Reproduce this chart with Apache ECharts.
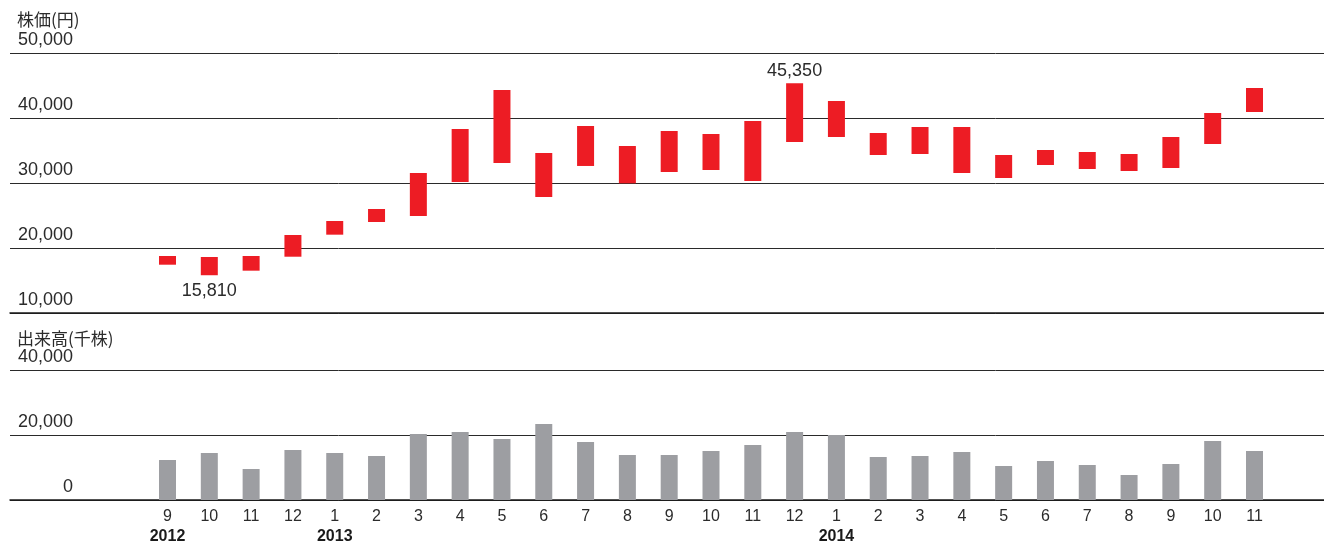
<!DOCTYPE html>
<html>
<head>
<meta charset="utf-8">
<script src="https://cdn.jsdelivr.net/npm/echarts@6/dist/echarts.min.js"></script>
<style>
  html, body { margin: 0; padding: 0; background: #fff; }
  #chart { width: 1324px; height: 542px; }
</style>
</head>
<body>
<div id="chart"></div>
<script>
// Monthly categories (Sep 2012 - Nov 2014)
const months = ['9','10','11','12','1','2','3','4','5','6','7','8','9','10','11','12','1','2','3','4','5','6','7','8','9','10','11'];
const years  = ['2012','','','','2013','','','','','','','','','','','','2014','','','','','','','','','',''];

// Monthly share price range (yen)
const priceHigh = [18770, 18620, 18770, 22000, 24150, 26000, 31540, 38310, 44310, 34620, 38770, 35690, 38000, 37540, 39540, 45350, 42620, 37690, 38620, 38620, 34310, 35080, 34770, 34460, 37080, 40770, 44620];
const priceLow  = [17430, 15810, 16510, 18660, 22050, 24000, 24920, 30150, 33080, 27850, 32620, 29950, 31690, 32000, 30310, 36310, 37080, 34310, 34460, 31540, 30770, 32770, 32150, 31850, 32310, 36000, 40920];

// Monthly trading volume (thousand shares)
const volume = [12300, 14460, 9540, 15380, 14460, 13540, 20310, 20920, 18770, 23380, 17850, 13850, 13850, 15080, 16920, 20920, 20000, 13230, 13540, 14770, 10460, 12000, 10770, 7690, 11080, 18150, 15080];

// Axis ranges
const priceMin = 10000, priceMax = 50000, priceStep = 10000;
const volMin = 0, volMax = 40000, volStep = 20000;

const fmt = v => Number(v).toLocaleString('en-US');
const priceRange = priceHigh.map((h, i) => h - priceLow[i]);
const lowIdx = priceLow.indexOf(Math.min(...priceLow));
const highIdx = priceHigh.indexOf(Math.max(...priceHigh));

const LATIN = '"Liberation Sans", Arial, Helvetica, sans-serif';
const CJK = '"Noto Sans CJK JP", "Noto Sans CJK SC", sans-serif';
const TEXT = '#2b2b2b';
const LINE = '#2a2a2a';

const PLOT_L = 146.6, PLOT_R = 48.6;
const TOP_Y = 53, TOP_H = 260;
const BOT_Y = 370, BOT_H = 130;

function scaleAxis(min, max, step, grid) {
  return {
    type: 'value', gridIndex: grid, min: min, max: max, interval: step,
    axisLine: { show: false }, axisTick: { show: false },
    splitLine: { show: true, lineStyle: { color: LINE, width: 1 } },
    axisLabel: {
      inside: true, margin: 63, align: 'right', verticalAlign: 'bottom',
      padding: [0, 0, 4, 0], lineHeight: 18,
      fontFamily: LATIN, fontSize: 18, color: TEXT,
      formatter: v => fmt(v)
    }
  };
}
function hiddenValue(min, max, grid) {
  return { type: 'value', gridIndex: grid, min: min, max: max, show: false, splitLine: { show: false } };
}
function frameX(grid) {
  return {
    type: 'category', gridIndex: grid, data: [''],
    axisLine: { show: true, lineStyle: { color: '#1a1a1a', width: 1.5 } },
    axisTick: { show: false }, axisLabel: { show: false }, splitLine: { show: false }
  };
}
function gridBox(left, right, top, height) {
  return { left: left, right: right, top: top, height: height, containLabel: false, outerBoundsMode: 'none' };
}

const chart = echarts.init(document.getElementById('chart'), null, { renderer: 'canvas' });

chart.setOption({
  animation: false,
  backgroundColor: '#ffffff',
  title: [
    { text: '株価(円)', left: 17, top: 11, padding: 0,
      textStyle: { fontFamily: CJK, fontSize: 17, fontWeight: 'normal', color: TEXT } },
    { text: '出来高(千株)', left: 17, top: 330, padding: 0,
      textStyle: { fontFamily: CJK, fontSize: 17, fontWeight: 'normal', color: TEXT } }
  ],
  grid: [
    gridBox(10, 0, TOP_Y, TOP_H),
    gridBox(PLOT_L, PLOT_R, TOP_Y, TOP_H),
    gridBox(10, 0, BOT_Y, BOT_H),
    gridBox(PLOT_L, PLOT_R, BOT_Y, BOT_H)
  ],
  xAxis: [
    frameX(0),
    { type: 'category', gridIndex: 1, data: months, show: false },
    frameX(2),
    {
      type: 'category', gridIndex: 3, data: months,
      axisLine: { show: false }, axisTick: { show: false },
      axisLabel: {
        interval: 0, margin: 7, fontFamily: LATIN, fontSize: 16, color: TEXT, lineHeight: 20,
        formatter: (v, i) => years[i] ? v + '\n{y|' + years[i] + '}' : v,
        rich: { y: { fontFamily: LATIN, fontWeight: 'bold', fontSize: 16, lineHeight: 20, color: '#1a1a1a' } }
      }
    }
  ],
  yAxis: [
    scaleAxis(priceMin, priceMax, priceStep, 0),
    hiddenValue(priceMin, priceMax, 1),
    scaleAxis(volMin, volMax, volStep, 2),
    hiddenValue(volMin, volMax, 3)
  ],
  series: [
    {
      name: 'base', type: 'bar', stack: 'price', xAxisIndex: 1, yAxisIndex: 1,
      data: priceLow, barWidth: 17, silent: true,
      itemStyle: { color: 'rgba(0,0,0,0)' }
    },
    {
      name: '株価', type: 'bar', stack: 'price', xAxisIndex: 1, yAxisIndex: 1,
      barWidth: 17, silent: true,
      itemStyle: { color: '#ED1C24' },
      data: priceRange.map((r, i) => {
        if (i === lowIdx) {
          return { value: r, label: { show: true, position: 'bottom', distance: 7,
            formatter: () => fmt(priceLow[i]) } };
        }
        if (i === highIdx) {
          return { value: r, label: { show: true, position: 'top', distance: 3,
            formatter: () => fmt(priceHigh[i]) } };
        }
        return r;
      }),
      label: { fontFamily: LATIN, fontSize: 18, color: TEXT }
    },
    {
      name: '出来高', type: 'bar', xAxisIndex: 3, yAxisIndex: 3,
      data: volume, barWidth: 17, silent: true,
      itemStyle: { color: '#9D9EA2' }
    }
  ]
});
</script>
</body>
</html>
